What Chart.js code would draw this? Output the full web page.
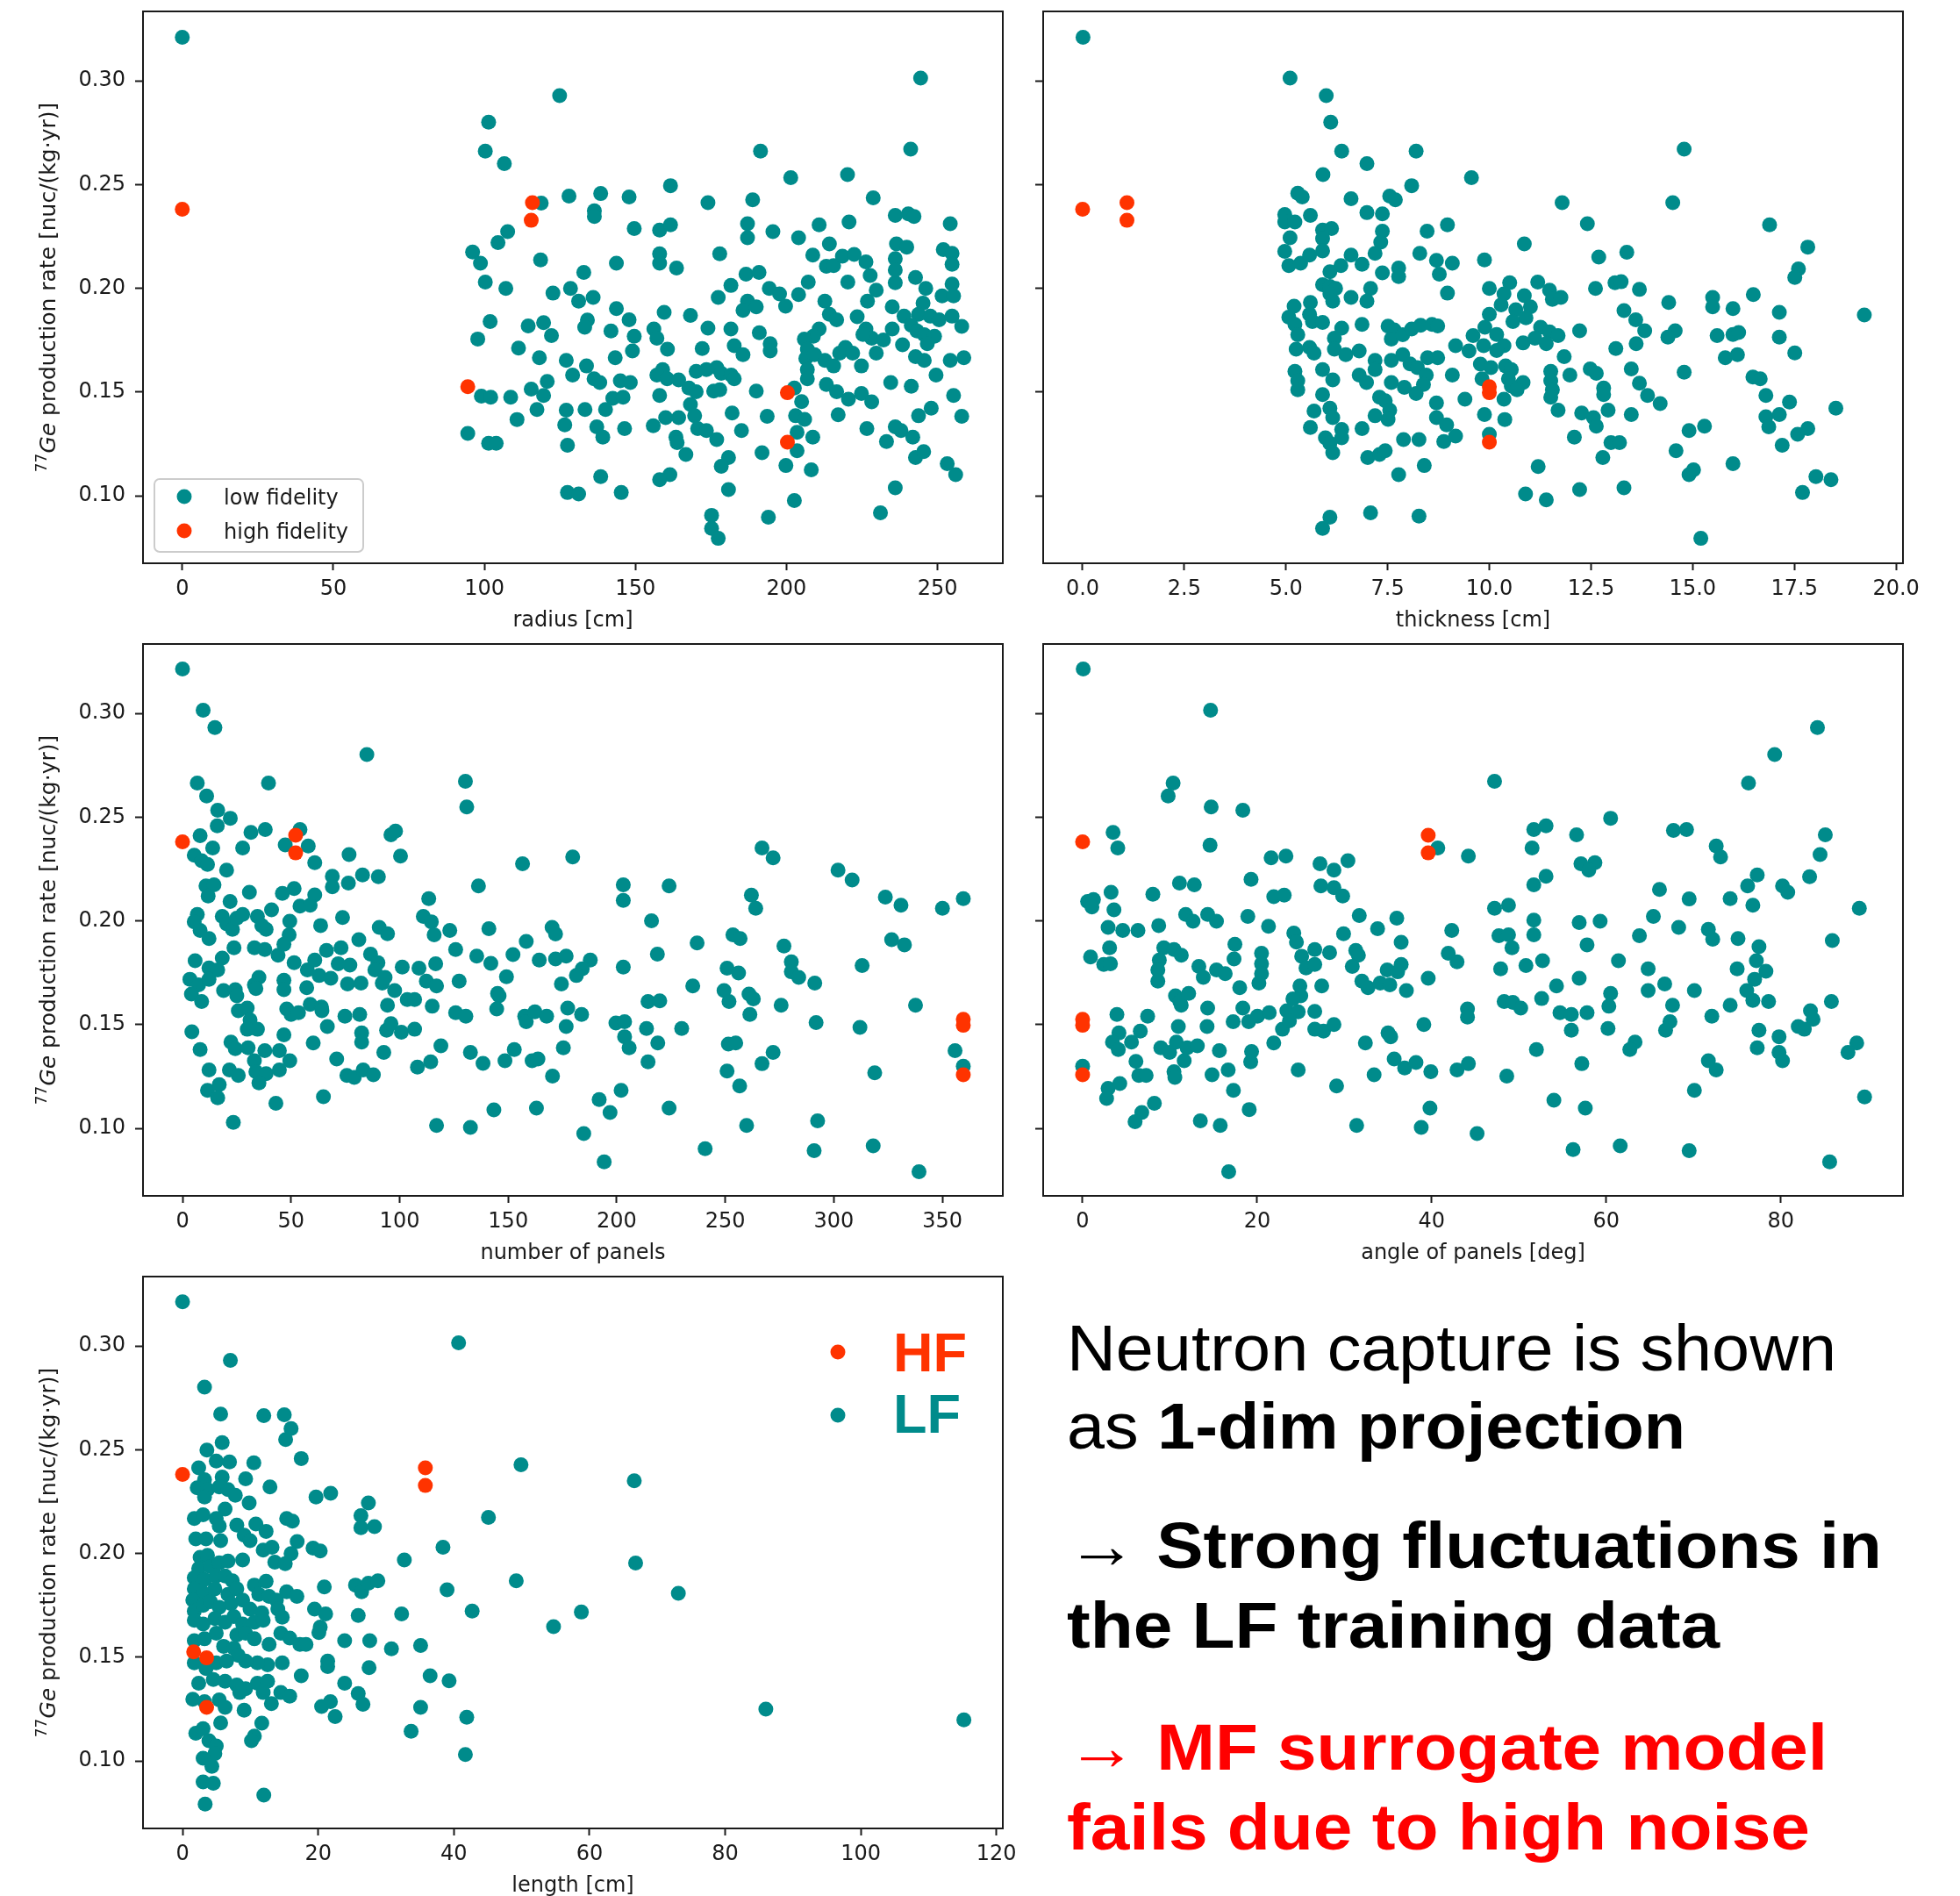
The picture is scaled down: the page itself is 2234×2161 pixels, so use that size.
<!DOCTYPE html>
<html>
<head>
<meta charset="utf-8">
<title>Neutron capture 1-dim projections</title>
<script src="https://cdn.jsdelivr.net/npm/chart.js@4.4.1/dist/chart.umd.min.js"></script>
<style>
  html, body { margin: 0; padding: 0; background: #fff; }
  body { width: 2234px; height: 2161px; position: relative; overflow: hidden; }
  canvas { position: absolute; }
  .note { position: absolute; left: 1216px; font-family: "Liberation Sans", Arial, sans-serif;
          font-size: 75px; line-height: 75px; white-space: nowrap; color: #000; transform-origin: 0 0; }
  .note b { font-weight: bold; }
  .note .arr { font-family: "Liberation Serif", "DejaVu Serif", serif; }
  .red { color: #ff0000; }
</style>
</head>
<body>
<canvas id="p1" width="1188" height="727" style="left:0px;top:0px"></canvas>
<canvas id="p2" width="1188" height="727" style="left:1026px;top:0px"></canvas>
<canvas id="p3" width="1188" height="727" style="left:0px;top:721px"></canvas>
<canvas id="p4" width="1188" height="727" style="left:1026px;top:721px"></canvas>
<canvas id="p5" width="1188" height="727" style="left:0px;top:1442px"></canvas>

<div class="note" style="top:1499px" data-w="877">Neutron capture is shown</div>
<div class="note" style="top:1588px" data-w="705">as <b>1-dim projection</b></div>
<div class="note" style="top:1724px" data-w="929"><span class="arr">→</span> <b>Strong fluctuations in</b></div>
<div class="note" style="top:1815px" data-w="744"><b>the LF training data</b></div>
<div class="note red" style="top:1954px" data-w="867"><span class="arr">→</span> <b>MF surrogate model</b></div>
<div class="note red" style="top:2045px" data-w="847"><b>fails due to high noise</b></div>

<script>
// tick values
const rateTicks = [0.10, 0.15, 0.20, 0.25, 0.30];
const radiusTicks = [0, 50, 100, 150, 200, 250];
const thicknessTicks = [0, 2.5, 5, 7.5, 10, 12.5, 15, 17.5, 20];
const panelTicks = [0, 50, 100, 150, 200, 250, 300, 350];
const angleTicks = [0, 20, 40, 60, 80];
const lengthTicks = [0, 20, 40, 60, 80, 100, 120];

// [x, rate] pairs
const radiusHF = [[0, 0.2381], [115.9, 0.2413], [115.5, 0.2328], [94.5, 0.1526], [200.3, 0.1497], [200.3, 0.1259]];
const radiusLF = [
  [0, 0.3210], [124.9, 0.2929], [101.4, 0.2801], [100.3, 0.2662], [106.6, 0.2601], [118.8, 0.2411], [107.7, 0.2274], [104.5, 0.2221],
  [96.1, 0.2175], [98.7, 0.2121], [118.6, 0.2137], [100.3, 0.2030], [107.1, 0.2000], [122.7, 0.1977], [101.9, 0.1840], [97.8, 0.1756],
  [114.5, 0.1819], [119.6, 0.1835], [122.2, 0.1772], [111.3, 0.1712], [118.2, 0.1666], [99.0, 0.1481], [102.1, 0.1475], [108.7, 0.1475],
  [115.5, 0.1514], [120.8, 0.1551], [119.6, 0.1484], [117.4, 0.1416], [110.8, 0.1368], [94.5, 0.1301], [101.4, 0.1253], [103.9, 0.1253],
  [244.4, 0.3014], [191.4, 0.2662], [241.1, 0.2671], [201.4, 0.2534], [220.2, 0.2548], [161.6, 0.2495], [128.0, 0.2445], [138.5, 0.2457],
  [147.9, 0.2441], [174.0, 0.2413], [188.8, 0.2427], [228.7, 0.2436], [136.4, 0.2374], [136.4, 0.2347], [236.0, 0.2352], [240.3, 0.2359],
  [242.2, 0.2347], [254.2, 0.2312], [149.6, 0.2288], [158.0, 0.2281], [161.6, 0.2306], [187.1, 0.2312], [187.1, 0.2244], [195.5, 0.2274],
  [204.0, 0.2244], [210.8, 0.2306], [220.7, 0.2320], [214.2, 0.2214], [236.4, 0.2214], [239.8, 0.2199], [158.0, 0.2167], [158.0, 0.2121],
  [143.7, 0.2121], [163.6, 0.2098], [177.9, 0.2167], [208.7, 0.2160], [213.2, 0.2107], [215.6, 0.2110], [218.5, 0.2155], [222.4, 0.2164],
  [226.3, 0.2128], [236.0, 0.2143], [236.0, 0.2089], [251.9, 0.2187], [254.8, 0.2169], [254.8, 0.2116], [132.9, 0.2077], [186.6, 0.2068],
  [190.9, 0.2077], [181.6, 0.2014], [227.7, 0.2062], [207.2, 0.2030], [220.3, 0.2030], [236.0, 0.2027], [242.7, 0.2053], [246.1, 0.2000],
  [254.8, 0.2021], [251.5, 0.1964], [255.3, 0.1964], [128.5, 0.2000], [194.3, 0.2000], [197.7, 0.1973], [199.7, 0.1914], [204.0, 0.1970],
  [131.2, 0.1938], [136.0, 0.1956], [177.4, 0.1956], [187.1, 0.1938], [185.6, 0.1894], [190.0, 0.1911], [143.7, 0.1902], [159.5, 0.1884],
  [168.2, 0.1870], [147.9, 0.1849], [134.1, 0.1847], [133.2, 0.1813], [226.8, 0.1938], [229.7, 0.1991], [223.4, 0.1863], [212.7, 0.1938],
  [214.2, 0.1875], [216.6, 0.1849], [235.0, 0.1911], [238.9, 0.1866], [245.2, 0.1929], [243.7, 0.1875], [247.6, 0.1866], [250.5, 0.1849],
  [254.8, 0.1866], [258.0, 0.1817], [241.3, 0.1822], [243.2, 0.1795], [245.6, 0.1777], [249.0, 0.1769], [238.4, 0.1728], [235.0, 0.1804],
  [226.3, 0.1804], [228.2, 0.1760], [232.1, 0.1751], [229.7, 0.1688], [225.3, 0.1778], [210.8, 0.1804], [208.9, 0.1769], [205.9, 0.1755],
  [206.9, 0.1707], [206.4, 0.1662], [209.3, 0.1680], [212.7, 0.1653], [215.6, 0.1626], [217.6, 0.1688], [219.5, 0.1715], [221.9, 0.1688],
  [224.8, 0.1626], [206.9, 0.1609], [206.9, 0.1564], [242.7, 0.1671], [245.6, 0.1653], [246.6, 0.1733], [249.5, 0.1582], [254.2, 0.1653],
  [258.7, 0.1666], [234.5, 0.1546], [241.3, 0.1528], [255.3, 0.1484], [258.0, 0.1383], [243.7, 0.1386], [247.9, 0.1422], [213.2, 0.1537],
  [216.6, 0.1502], [220.5, 0.1466], [224.8, 0.1493], [228.2, 0.1453], [217.1, 0.1391], [226.6, 0.1324], [236.0, 0.1333], [237.9, 0.1315],
  [233.1, 0.1262], [241.8, 0.1283], [242.7, 0.1185], [245.4, 0.1213], [253.2, 0.1155], [256.0, 0.1102], [236.0, 0.1039], [231.1, 0.0918],
  [202.6, 0.1520], [205.0, 0.1454], [203.0, 0.1386], [206.0, 0.1369], [203.5, 0.1306], [208.7, 0.1283], [203.5, 0.1217], [199.8, 0.1146],
  [208.2, 0.1125], [202.6, 0.0977], [194.0, 0.0897], [193.6, 0.1383], [191.9, 0.1208], [190.0, 0.1505], [182.0, 0.1399], [185.1, 0.1315],
  [180.8, 0.1185], [178.4, 0.1142], [180.8, 0.1030], [175.2, 0.0906], [175.2, 0.0843], [177.4, 0.0795], [172.1, 0.1710], [174.0, 0.1808],
  [181.6, 0.1804], [182.7, 0.1724], [185.6, 0.1680], [191.0, 0.1786], [194.6, 0.1733], [194.6, 0.1698], [156.1, 0.1804], [157.1, 0.1760],
  [160.6, 0.1707], [149.6, 0.1769], [149.0, 0.1698], [141.9, 0.1795], [143.3, 0.1666], [127.1, 0.1653], [133.8, 0.1626], [129.2, 0.1582],
  [136.3, 0.1564], [138.2, 0.1546], [145.0, 0.1555], [148.3, 0.1546], [142.5, 0.1470], [145.9, 0.1475], [140.1, 0.1416], [133.3, 0.1416],
  [127.1, 0.1413], [126.6, 0.1342], [127.5, 0.1244], [137.2, 0.1333], [139.2, 0.1283], [146.4, 0.1324], [155.9, 0.1338], [158.0, 0.1484],
  [159.0, 0.1609], [157.1, 0.1582], [160.5, 0.1564], [164.3, 0.1559], [167.7, 0.1520], [160.0, 0.1377], [164.3, 0.1377], [168.2, 0.1440],
  [169.6, 0.1386], [170.1, 0.1502], [170.6, 0.1324], [173.5, 0.1315], [176.9, 0.1271], [163.4, 0.1283], [163.8, 0.1256], [166.7, 0.1199],
  [170.1, 0.1600], [173.5, 0.1609], [176.9, 0.1618], [178.4, 0.1591], [181.7, 0.1582], [182.7, 0.1564], [175.9, 0.1505], [177.9, 0.1511],
  [138.5, 0.1093], [145.3, 0.1016], [161.4, 0.1102], [158.0, 0.1078], [127.5, 0.1016], [131.2, 0.1009]
];

const thicknessHF = [[0, 0.2381], [1.09, 0.2413], [1.09, 0.2328], [10.0, 0.1526], [10.0, 0.1497], [10.0, 0.1259]];
const thicknessLF = [
  [0.01, 0.3210], [5.10, 0.3014], [5.99, 0.2929], [6.10, 0.2801], [6.37, 0.2662], [6.99, 0.2601], [8.20, 0.2662], [5.91, 0.2548],
  [8.09, 0.2495], [9.56, 0.2534], [5.29, 0.2459], [5.40, 0.2441], [6.60, 0.2432], [7.55, 0.2445], [7.69, 0.2427], [4.97, 0.2356],
  [4.97, 0.2320], [5.22, 0.2320], [5.60, 0.2352], [6.99, 0.2365], [7.37, 0.2359], [8.97, 0.2306], [8.47, 0.2276], [5.10, 0.2244],
  [5.90, 0.2281], [6.12, 0.2288], [5.90, 0.2240], [7.37, 0.2276], [7.33, 0.2223], [4.97, 0.2178], [5.07, 0.2110], [5.36, 0.2121],
  [5.58, 0.2160], [5.90, 0.2181], [6.60, 0.2160], [6.87, 0.2116], [7.19, 0.2169], [8.29, 0.2169], [8.70, 0.2135], [9.09, 0.2121],
  [8.77, 0.2068], [7.37, 0.2075], [7.77, 0.2098], [7.77, 0.2057], [6.35, 0.2110], [6.08, 0.2080], [5.90, 0.2018], [6.08, 0.2009],
  [6.22, 0.2000], [6.08, 0.1973], [6.15, 0.1938], [6.60, 0.1956], [7.08, 0.2000], [6.99, 0.1938], [8.97, 0.1977], [5.20, 0.1914],
  [5.60, 0.1932], [5.07, 0.1861], [5.22, 0.1826], [5.29, 0.1777], [5.58, 0.1875], [5.65, 0.1840], [5.90, 0.1836], [5.25, 0.1707],
  [5.58, 0.1715], [5.69, 0.1688], [6.37, 0.1808], [6.19, 0.1760], [6.19, 0.1707], [6.47, 0.1680], [6.80, 0.1698], [6.87, 0.1826],
  [7.19, 0.1653], [7.19, 0.1609], [7.51, 0.1818], [7.66, 0.1800], [7.59, 0.1756], [7.87, 0.1777], [8.09, 0.1804], [8.31, 0.1822],
  [8.59, 0.1826], [8.73, 0.1819], [9.17, 0.1724], [9.50, 0.1698], [9.60, 0.1772], [7.59, 0.1653], [7.87, 0.1680], [8.05, 0.1636],
  [8.23, 0.1618], [8.48, 0.1666], [8.73, 0.1666], [8.45, 0.1582], [8.38, 0.1537], [8.20, 0.1493], [7.91, 0.1523], [7.59, 0.1546],
  [9.09, 0.1582], [9.40, 0.1466], [5.22, 0.1600], [5.29, 0.1555], [5.29, 0.1511], [5.90, 0.1609], [6.15, 0.1559], [6.80, 0.1582],
  [6.98, 0.1546], [5.90, 0.1488], [5.69, 0.1409], [6.08, 0.1422], [6.15, 0.1377], [5.60, 0.1329], [6.37, 0.1320], [6.37, 0.1280],
  [5.97, 0.1280], [6.08, 0.1253], [6.15, 0.1208], [6.87, 0.1324], [7.30, 0.1475], [7.44, 0.1458], [7.55, 0.1413], [7.19, 0.1386],
  [7.51, 0.1369], [7.01, 0.1185], [7.30, 0.1199], [7.44, 0.1217], [7.89, 0.1271], [8.27, 0.1271], [7.77, 0.1102], [8.40, 0.1146],
  [8.70, 0.1448], [8.70, 0.1377], [8.95, 0.1342], [8.88, 0.1262], [9.17, 0.1288], [6.08, 0.0897], [5.90, 0.0843], [7.08, 0.0918],
  [8.27, 0.0902],
  [14.79, 0.2671], [11.79, 0.2413], [14.51, 0.2413], [12.41, 0.2312], [16.89, 0.2306], [10.86, 0.2214], [17.83, 0.2199], [9.88, 0.2137],
  [12.69, 0.2151], [13.38, 0.2174], [17.60, 0.2094], [17.51, 0.2053], [10.00, 0.2000], [10.50, 0.2027], [11.19, 0.2030], [10.36, 0.1973],
  [10.86, 0.1965], [11.48, 0.1991], [11.55, 0.1947], [11.76, 0.1956], [10.29, 0.1920], [10.65, 0.1897], [11.01, 0.1911], [10.00, 0.1875],
  [10.58, 0.1840], [10.90, 0.1858], [12.61, 0.2000], [13.09, 0.2027], [13.24, 0.2032], [13.69, 0.1995], [13.31, 0.1893], [13.60, 0.1849],
  [13.82, 0.1796], [14.41, 0.1932], [14.57, 0.1796], [14.39, 0.1765], [15.49, 0.1956], [15.49, 0.1911], [15.99, 0.1902], [16.49, 0.1970],
  [17.13, 0.1884], [19.22, 0.1872], [9.89, 0.1813], [10.18, 0.1778], [9.86, 0.1724], [10.36, 0.1724], [10.18, 0.1701], [11.26, 0.1813],
  [11.48, 0.1790], [11.69, 0.1772], [10.83, 0.1737], [11.12, 0.1760], [11.40, 0.1733], [12.22, 0.1796], [13.11, 0.1710], [13.61, 0.1733],
  [15.60, 0.1772], [15.99, 0.1778], [16.13, 0.1787], [17.13, 0.1765], [15.80, 0.1666], [16.10, 0.1680], [17.51, 0.1689], [9.78, 0.1635],
  [10.04, 0.1618], [10.40, 0.1626], [10.54, 0.1609], [9.82, 0.1564], [10.47, 0.1564], [10.54, 0.1529], [10.83, 0.1546], [10.68, 0.1511],
  [10.36, 0.1466], [11.51, 0.1600], [11.51, 0.1555], [11.55, 0.1511], [11.51, 0.1475], [11.84, 0.1671], [11.98, 0.1582], [12.48, 0.1612],
  [12.63, 0.1591], [12.81, 0.1520], [12.81, 0.1488], [13.49, 0.1612], [13.69, 0.1543], [13.89, 0.1484], [14.20, 0.1445], [14.79, 0.1596],
  [11.69, 0.1413], [12.27, 0.1399], [12.56, 0.1377], [12.63, 0.1336], [12.92, 0.1413], [13.49, 0.1392], [9.88, 0.1392], [10.38, 0.1368],
  [10.00, 0.1297], [12.09, 0.1283], [12.99, 0.1256], [13.20, 0.1256], [12.79, 0.1185], [11.20, 0.1141], [10.89, 0.1009], [11.40, 0.0981],
  [12.22, 0.1030], [13.31, 0.1039], [14.91, 0.1315], [15.29, 0.1336], [14.59, 0.1217], [14.91, 0.1102], [15.02, 0.1125], [15.99, 0.1155],
  [15.20, 0.0795], [16.48, 0.1573], [16.66, 0.1564], [16.80, 0.1484], [17.38, 0.1452], [16.80, 0.1381], [17.13, 0.1392], [16.87, 0.1333],
  [17.58, 0.1297], [17.83, 0.1324], [17.20, 0.1244], [18.52, 0.1422], [18.03, 0.1093], [18.40, 0.1078], [17.70, 0.1016]
];

const panelsHF = [[0, 0.2381], [52.1, 0.2413], [52.1, 0.2328], [359.6, 0.1526], [359.6, 0.1497], [359.6, 0.1259]];
const panelsLF = [
  [0, 0.3214], [9.5, 0.3016], [14.9, 0.2932], [84.9, 0.2802], [6.8, 0.2665], [39.6, 0.2665], [11.1, 0.2602], [16.2, 0.2534],
  [22.0, 0.2495], [16.0, 0.2459], [8.1, 0.2411], [13.9, 0.2352], [27.7, 0.2352], [31.5, 0.2427], [38.1, 0.2441], [54.1, 0.2441],
  [47.3, 0.2367], [57.9, 0.2361], [60.9, 0.2281], [5.4, 0.2317], [8.8, 0.2290], [11.5, 0.2272], [20.3, 0.2245], [76.7, 0.2320],
  [96.0, 0.2415], [98.1, 0.2433], [100.4, 0.2313], [130.3, 0.2673], [130.9, 0.2549], [156.6, 0.2276], [69.0, 0.2215], [69.0, 0.2165],
  [76.4, 0.2183], [82.9, 0.2222], [90.2, 0.2213], [10.8, 0.2169], [14.5, 0.2174], [11.8, 0.2120], [30.8, 0.2138], [21.9, 0.2094],
  [46.0, 0.2133], [51.4, 0.2156], [60.9, 0.2126], [54.1, 0.2072], [58.8, 0.2076], [41.0, 0.2054], [136.3, 0.2169], [113.4, 0.2108],
  [6.8, 0.2031], [5.4, 0.1996], [8.1, 0.1954], [12.2, 0.1915], [18.3, 0.2022], [20.3, 0.1986], [23.0, 0.1960], [25.0, 0.2013],
  [27.7, 0.2031], [34.5, 0.2022], [36.5, 0.1978], [38.5, 0.1960], [49.4, 0.1999], [49.1, 0.1933], [63.6, 0.1978], [73.7, 0.2017],
  [81.2, 0.1910], [90.6, 0.1969], [94.4, 0.1938], [110.9, 0.2022], [114.6, 0.1996], [115.9, 0.1933], [123.1, 0.1954], [141.1, 0.1963],
  [158.3, 0.1901], [170.2, 0.1969], [171.8, 0.1937], [5.8, 0.1808], [23.7, 0.1871], [18.3, 0.1821], [12.2, 0.1773], [16.2, 0.1764],
  [33.1, 0.1871], [37.9, 0.1862], [44.0, 0.1835], [46.7, 0.1888], [51.4, 0.1799], [57.5, 0.1764], [60.9, 0.1812], [66.3, 0.1858],
  [73.0, 0.1871], [71.7, 0.1794], [77.1, 0.1787], [86.6, 0.1840], [90.0, 0.1799], [88.6, 0.1764], [101.2, 0.1778], [108.9, 0.1772],
  [116.6, 0.1794], [125.8, 0.1862], [135.5, 0.1831], [142.0, 0.1796], [152.2, 0.1838], [164.3, 0.1812], [171.8, 0.1817], [3.4, 0.1719],
  [7.4, 0.1692], [4.1, 0.1648], [8.8, 0.1612], [12.2, 0.1719], [18.9, 0.1665], [24.3, 0.1669], [25.0, 0.1639], [33.1, 0.1692],
  [35.2, 0.1728], [33.8, 0.1674], [46.7, 0.1714], [46.7, 0.1669], [57.2, 0.1678], [62.9, 0.1737], [68.3, 0.1724], [76.0, 0.1696],
  [82.2, 0.1701], [92.0, 0.1701], [93.3, 0.1728], [97.7, 0.1665], [103.5, 0.1621], [106.9, 0.1621], [112.3, 0.1710], [117.0, 0.1687],
  [127.4, 0.1710], [149.2, 0.1731], [145.1, 0.1651], [145.8, 0.1639], [174.5, 0.1696], [115.0, 0.1589], [125.8, 0.1558], [130.5, 0.1541],
  [144.7, 0.1576], [157.6, 0.1541], [158.3, 0.1514], [162.3, 0.1562], [167.7, 0.1541], [25.7, 0.1567], [29.8, 0.1580], [31.1, 0.1523],
  [29.8, 0.1478], [34.5, 0.1478], [48.0, 0.1576], [50.0, 0.1549], [53.4, 0.1558], [58.8, 0.1598], [64.0, 0.1585], [64.2, 0.1567],
  [74.8, 0.1541], [81.6, 0.1549], [66.7, 0.1491], [94.4, 0.1594], [94.0, 0.1473], [96.0, 0.1505], [100.8, 0.1464], [106.9, 0.1478],
  [82.5, 0.1460], [82.5, 0.1416], [46.7, 0.1451], [4.3, 0.1466], [8.1, 0.1380], [22.3, 0.1416], [24.3, 0.1384], [30.2, 0.1389],
  [37.9, 0.1375], [44.6, 0.1375], [49.4, 0.1326], [33.1, 0.1326], [33.8, 0.1273], [38.5, 0.1264], [44.6, 0.1282], [35.2, 0.1219],
  [60.2, 0.1412], [71.0, 0.1335], [92.7, 0.1366], [119.0, 0.1398], [114.3, 0.1321], [108.2, 0.1296], [132.6, 0.1366], [138.4, 0.1314],
  [148.5, 0.1326], [152.8, 0.1380], [161.0, 0.1326], [163.7, 0.1335], [170.4, 0.1252], [75.7, 0.1255], [79.1, 0.1246], [83.2, 0.1282],
  [87.9, 0.1259], [12.2, 0.1282], [21.6, 0.1282], [25.7, 0.1255], [11.5, 0.1184], [16.9, 0.1211], [16.2, 0.1148], [43.0, 0.1121],
  [64.9, 0.1153], [23.4, 0.1029], [117.0, 0.1014], [132.6, 0.1005], [143.4, 0.1089], [163.0, 0.1098],
  [179.7, 0.2308], [203.0, 0.2174], [203.0, 0.2099], [224.1, 0.2169], [266.9, 0.2352], [272.0, 0.2304], [301.9, 0.2245], [308.4, 0.2197],
  [323.7, 0.2115], [330.9, 0.2076], [350.0, 0.2061], [359.6, 0.2108], [262.0, 0.2124], [264.0, 0.2061], [216.0, 0.2001], [253.5, 0.1933],
  [256.8, 0.1915], [237.0, 0.1894], [277.0, 0.1879], [326.6, 0.1910], [332.5, 0.1885], [176.7, 0.1831], [187.8, 0.1812], [184.1, 0.1769],
  [181.4, 0.1737], [203.0, 0.1778], [218.7, 0.1840], [250.8, 0.1772], [256.1, 0.1749], [280.4, 0.1803], [280.4, 0.1755], [283.8, 0.1728],
  [291.2, 0.1701], [313.0, 0.1785], [235.0, 0.1687], [249.4, 0.1665], [251.7, 0.1612], [260.9, 0.1648], [262.9, 0.1624], [261.3, 0.1549],
  [275.7, 0.1594], [177.4, 0.1580], [183.8, 0.1549], [214.4, 0.1612], [219.8, 0.1615], [199.6, 0.1508], [203.6, 0.1514], [203.6, 0.1442],
  [205.7, 0.1389], [213.7, 0.1482], [218.9, 0.1412], [214.4, 0.1321], [229.9, 0.1482], [176.7, 0.1491], [175.4, 0.1389], [251.4, 0.1407],
  [254.8, 0.1412], [250.8, 0.1277], [256.6, 0.1205], [266.9, 0.1312], [272.0, 0.1366], [291.8, 0.1510], [312.0, 0.1487], [337.6, 0.1594],
  [318.8, 0.1268], [355.8, 0.1375], [359.6, 0.1300], [191.9, 0.1139], [196.9, 0.1077], [202.0, 0.1184], [224.1, 0.1098], [184.8, 0.0975],
  [194.2, 0.0839], [240.7, 0.0902], [259.8, 0.1014], [292.5, 0.1037], [290.9, 0.0893], [318.1, 0.0916], [339.2, 0.0791]
];

const angleHF = [[0, 0.2381], [0, 0.1526], [0, 0.1497], [0, 0.1259], [39.6, 0.2413], [39.6, 0.2328]];
const angleLF = [
  [0.07, 0.3214], [0, 0.1300], [14.66, 0.3016], [10.37, 0.2665], [9.80, 0.2602], [14.73, 0.2549], [18.36, 0.2534], [14.60, 0.2365],
  [3.49, 0.2427], [4.03, 0.2352], [40.7, 0.2352], [44.2, 0.2313], [21.6, 0.2304], [23.3, 0.2313], [27.2, 0.2276], [28.8, 0.2245],
  [30.4, 0.2290], [19.3, 0.2201], [11.1, 0.2183], [12.8, 0.2174], [3.26, 0.2138], [0.57, 0.2094], [1.24, 0.2103], [1.07, 0.2067],
  [3.59, 0.2054], [8.05, 0.2129], [21.9, 0.2117], [23.1, 0.2124], [27.3, 0.2169], [28.8, 0.2160], [29.8, 0.2120], [2.92, 0.1969],
  [4.60, 0.1954], [6.34, 0.1954], [8.72, 0.1978], [11.81, 0.2031], [12.65, 0.1999], [14.33, 0.2031], [15.34, 0.1999], [18.93, 0.2022],
  [21.3, 0.1974], [31.7, 0.2026], [33.8, 0.1963], [36.0, 0.2013], [42.3, 0.1954], [3.09, 0.1871], [0.91, 0.1826], [2.42, 0.1790],
  [3.19, 0.1794], [17.45, 0.1888], [17.35, 0.1817], [24.2, 0.1942], [24.5, 0.1898], [29.9, 0.1938], [36.5, 0.1897], [41.9, 0.1844],
  [42.9, 0.1803], [9.30, 0.1871], [10.47, 0.1862], [11.31, 0.1835], [8.79, 0.1812], [8.62, 0.1764], [8.62, 0.1710], [13.32, 0.1781],
  [13.83, 0.1728], [15.34, 0.1764], [16.34, 0.1746], [20.5, 0.1844], [20.5, 0.1794], [20.5, 0.1746], [20.2, 0.1701], [18.0, 0.1678],
  [25.1, 0.1830], [25.6, 0.1773], [26.6, 0.1862], [26.6, 0.1790], [28.3, 0.1847], [31.3, 0.1858], [31.6, 0.1835], [30.9, 0.1781],
  [34.9, 0.1764], [36.5, 0.1790], [36.1, 0.1755], [32.0, 0.1710], [32.7, 0.1678], [34.1, 0.1701], [35.2, 0.1692], [37.1, 0.1665],
  [39.6, 0.1724], [27.4, 0.1687], [24.9, 0.1687], [25.0, 0.1639], [24.1, 0.1624], [23.4, 0.1567], [24.7, 0.1562], [26.6, 0.1564],
  [22.9, 0.1478], [23.7, 0.1519], [21.9, 0.1412], [27.6, 0.1469], [26.6, 0.1478], [28.8, 0.1501], [32.4, 0.1412], [35.0, 0.1460],
  [35.3, 0.1442], [35.7, 0.1335], [36.9, 0.1291], [38.2, 0.1318], [39.9, 0.1273], [39.1, 0.1501], [33.4, 0.1259], [29.1, 0.1205],
  [24.7, 0.1282], [31.4, 0.1014], [38.8, 0.1005], [39.8, 0.1098], [42.9, 0.1282], [44.2, 0.1312], [44.1, 0.1576], [44.1, 0.1537],
  [45.2, 0.0975], [3.93, 0.1549], [7.45, 0.1541], [4.16, 0.1460], [3.42, 0.1416], [4.09, 0.1380], [5.60, 0.1416], [6.61, 0.1469],
  [6.11, 0.1323], [6.44, 0.1255], [7.28, 0.1255], [2.92, 0.1193], [4.26, 0.1216], [2.75, 0.1144], [8.22, 0.1121], [6.78, 0.1077],
  [6.01, 0.1032], [8.96, 0.1389], [9.97, 0.1366], [10.74, 0.1416], [10.97, 0.1491], [10.64, 0.1639], [11.14, 0.1612], [11.3, 0.1594],
  [12.15, 0.1651], [11.98, 0.1389], [11.64, 0.1326], [10.47, 0.1273], [10.57, 0.1246], [13.15, 0.1398], [14.33, 0.1580], [14.26, 0.1491],
  [15.67, 0.1375], [14.83, 0.1259], [16.68, 0.1282], [17.28, 0.1184], [17.25, 0.1514], [18.36, 0.1580], [19.03, 0.1514], [20.03, 0.1541],
  [21.38, 0.1558], [19.36, 0.1371], [19.26, 0.1321], [19.09, 0.1091], [13.49, 0.1037], [15.77, 0.1014], [16.74, 0.0791],
  [47.2, 0.2673], [84.2, 0.2932], [79.3, 0.2802], [76.3, 0.2665], [60.5, 0.2495], [51.7, 0.2441], [53.1, 0.2459], [56.6, 0.2415],
  [51.5, 0.2352], [67.7, 0.2436], [69.2, 0.2441], [72.6, 0.2361], [73.1, 0.2308], [85.1, 0.2415], [84.5, 0.2320], [57.1, 0.2276],
  [58.7, 0.2281], [58.0, 0.2245], [51.7, 0.2174], [53.1, 0.2215], [66.1, 0.2152], [69.5, 0.2106], [77.3, 0.2222], [76.2, 0.2169],
  [76.8, 0.2076], [74.2, 0.2108], [80.2, 0.2169], [80.8, 0.2138], [83.3, 0.2213], [89.0, 0.2061], [47.2, 0.2061], [48.8, 0.2076],
  [51.7, 0.2004], [51.7, 0.1933], [56.9, 0.1992], [59.3, 0.1999], [57.8, 0.1885], [47.7, 0.1929], [48.8, 0.1933], [49.2, 0.1871],
  [65.4, 0.2022], [63.8, 0.1929], [68.3, 0.1969], [71.7, 0.1960], [72.2, 0.1912], [75.1, 0.1915], [77.5, 0.1876], [85.9, 0.1906],
  [47.9, 0.1769], [50.8, 0.1785], [52.7, 0.1808], [61.4, 0.1808], [64.8, 0.1769], [77.2, 0.1808], [75.0, 0.1769], [78.3, 0.1758],
  [77.0, 0.1719], [54.3, 0.1687], [56.9, 0.1724], [60.5, 0.1651], [60.3, 0.1589], [64.8, 0.1665], [66.7, 0.1696], [70.1, 0.1665],
  [67.6, 0.1594], [76.1, 0.1665], [76.8, 0.1617], [78.6, 0.1612], [74.2, 0.1594], [72.1, 0.1541], [85.8, 0.1612], [83.4, 0.1567],
  [83.7, 0.1526], [82.0, 0.1491], [82.7, 0.1478], [48.3, 0.1612], [49.3, 0.1607], [50.2, 0.1580], [52.6, 0.1626], [54.7, 0.1558],
  [56.0, 0.1549], [57.8, 0.1558], [56.0, 0.1473], [60.2, 0.1482], [67.3, 0.1514], [66.8, 0.1473], [63.3, 0.1416], [62.7, 0.1380],
  [77.5, 0.1473], [79.8, 0.1442], [77.3, 0.1389], [79.8, 0.1366], [80.2, 0.1326], [88.7, 0.1412], [87.7, 0.1366], [89.6, 0.1152],
  [52.0, 0.1380], [57.2, 0.1312], [48.6, 0.1252], [71.7, 0.1326], [72.6, 0.1282], [70.1, 0.1184], [54.0, 0.1136], [57.6, 0.1098],
  [56.2, 0.0898], [61.6, 0.0916], [69.5, 0.0893], [85.6, 0.0839]
];

const lengthHF = [[0, 0.2381], [35.8, 0.2413], [35.8, 0.2328], [1.64, 0.1526], [3.55, 0.1497], [3.55, 0.1259]];
const lengthLF = [
  [0, 0.3213], [40.7, 0.3016], [7.05, 0.2931], [3.24, 0.2802], [5.62, 0.2672], [11.98, 0.2665], [15.0, 0.2669], [16.0, 0.2602],
  [15.2, 0.2549], [5.84, 0.2535], [3.59, 0.2499], [17.5, 0.2458], [4.97, 0.2446], [6.92, 0.2442], [10.51, 0.2437], [49.9, 0.2428],
  [2.38, 0.2413], [9.30, 0.2360], [5.84, 0.2369], [3.24, 0.2356], [2.16, 0.2317], [3.68, 0.2308], [5.41, 0.2321], [6.70, 0.2308],
  [7.78, 0.2281], [3.24, 0.2272], [12.89, 0.2321], [19.68, 0.2272], [21.84, 0.2290], [27.4, 0.2244], [9.82, 0.2244], [26.3, 0.2183],
  [26.3, 0.2124], [28.3, 0.2130], [45.1, 0.2174], [1.73, 0.2169], [3.03, 0.2187], [4.97, 0.2169], [6.27, 0.2214], [5.41, 0.2133],
  [8.0, 0.2137], [9.08, 0.2089], [10.81, 0.2142], [12.32, 0.2107], [9.95, 0.2062], [15.35, 0.2169], [16.2, 0.2156], [16.9, 0.2058],
  [1.95, 0.2071], [3.46, 0.2071], [5.62, 0.2062], [11.89, 0.2017], [13.19, 0.2030], [16.0, 0.2000], [19.24, 0.2026], [20.3, 0.2012],
  [8.86, 0.1969], [13.6, 0.1958], [15.14, 0.1951], [38.4, 0.2030], [32.7, 0.1969], [2.59, 0.1982], [3.68, 0.1991], [2.38, 0.1928],
  [4.11, 0.1937], [5.41, 0.1955], [6.70, 0.1964], [1.73, 0.1883], [3.24, 0.1875], [4.97, 0.1892], [6.27, 0.1892], [7.35, 0.1869],
  [1.73, 0.1830], [3.03, 0.1812], [4.76, 0.1830], [6.70, 0.1803], [8.0, 0.1830], [10.59, 0.1848], [12.32, 0.1866], [11.24, 0.1803],
  [1.51, 0.1776], [1.73, 0.1723], [3.03, 0.1750], [4.11, 0.1768], [5.41, 0.1741], [7.14, 0.1759], [8.86, 0.1776], [9.95, 0.1732],
  [12.76, 0.1794], [13.84, 0.1776], [15.35, 0.1816], [16.86, 0.1794], [14.05, 0.1732], [11.68, 0.1714], [14.7, 0.1693], [20.9, 0.1839],
  [25.5, 0.1848], [26.4, 0.1816], [27.4, 0.1857], [28.8, 0.1869], [39.0, 0.1825], [49.2, 0.1869], [42.7, 0.1723], [32.3, 0.1709],
  [25.9, 0.1702], [54.7, 0.1648], [1.73, 0.1678], [3.03, 0.1660], [4.76, 0.1687], [6.27, 0.1669], [7.57, 0.1696], [8.86, 0.1660],
  [10.59, 0.1669], [11.89, 0.1678], [19.46, 0.1732], [21.1, 0.1709], [20.3, 0.1646], [20.1, 0.1619], [14.49, 0.1616], [15.8, 0.1593],
  [17.3, 0.1562], [18.2, 0.1562], [8.0, 0.1607], [9.3, 0.1616], [10.59, 0.1589], [1.73, 0.1580], [3.24, 0.1589], [4.97, 0.1616],
  [6.05, 0.1553], [7.57, 0.1544], [12.76, 0.1562], [23.9, 0.1580], [27.6, 0.1580], [30.8, 0.1541], [35.1, 0.1557], [21.4, 0.1482],
  [21.4, 0.1455], [27.5, 0.1450], [36.5, 0.1411], [39.3, 0.1387], [17.5, 0.1411], [14.7, 0.1473], [12.54, 0.1464], [11.03, 0.1473],
  [9.3, 0.1482], [8.22, 0.1509], [1.73, 0.1473], [3.46, 0.1446], [4.97, 0.1473], [6.49, 0.1482], [2.38, 0.1375], [4.54, 0.1393],
  [6.27, 0.1384], [8.0, 0.1366], [9.3, 0.1348], [11.03, 0.1375], [12.54, 0.1384], [11.89, 0.1330], [14.49, 0.1330], [15.8, 0.1313],
  [13.1, 0.1277], [8.43, 0.1330], [1.51, 0.1298], [3.24, 0.1286], [5.41, 0.1295], [6.27, 0.1259], [5.62, 0.1184], [9.08, 0.1245],
  [11.68, 0.1182], [10.59, 0.1120], [10.16, 0.1098], [1.95, 0.1134], [3.03, 0.1156], [3.89, 0.1098], [4.97, 0.1072], [4.76, 0.1036],
  [3.03, 0.1013], [4.32, 0.0974], [3.03, 0.0899], [4.54, 0.0893], [3.33, 0.0792], [11.98, 0.0836], [20.5, 0.1263], [21.8, 0.1286],
  [22.5, 0.1214], [23.9, 0.1375], [25.9, 0.1325], [26.6, 0.1273], [35.1, 0.1259], [33.7, 0.1143], [41.9, 0.1211], [41.7, 0.1031],
  [58.8, 0.1718], [66.6, 0.2351], [66.8, 0.1954], [73.1, 0.1808], [86.0, 0.1250], [115.2, 0.1198]
];

const HF_COLOR = '#ff3300';
const LF_COLOR = '#008b8b';
const INK = '#1a1a1a';
const rateRange = [0.0675, 0.3335];

function dot(ctx, x, y, color) {
  ctx.beginPath();
  ctx.arc(x, y, 8.5, 0, Math.PI * 2);
  ctx.fillStyle = color;
  ctx.fill();
}

function drawRateTitle(ctx, x, y) {
  const parts = [
    { t: '77', f: '17px "DejaVu Sans"', dy: -10 },
    { t: 'Ge', f: 'italic 25px "DejaVu Sans"', dy: 0 },
    { t: ' production rate [nuc/(kg·yr)]', f: '25px "DejaVu Sans"', dy: 0 }
  ];
  ctx.save();
  ctx.translate(x, y);
  ctx.rotate(-Math.PI / 2);
  ctx.textAlign = 'left';
  ctx.textBaseline = 'alphabetic';
  ctx.fillStyle = INK;
  let total = 0;
  parts.forEach(p => { ctx.font = p.f; p.w = ctx.measureText(p.t).width; total += p.w; });
  let cx = -total / 2;
  parts.forEach(p => { ctx.font = p.f; ctx.fillText(p.t, cx, p.dy); cx += p.w; });
  ctx.restore();
}

function roundBox(ctx, x, y, w, h, r) {
  ctx.beginPath();
  ctx.moveTo(x + r, y);
  ctx.arcTo(x + w, y, x + w, y + h, r);
  ctx.arcTo(x + w, y + h, x, y + h, r);
  ctx.arcTo(x, y + h, x, y, r);
  ctx.arcTo(x, y, x + w, y, r);
  ctx.closePath();
}

function drawFidelityLegend(ctx, a) {
  roundBox(ctx, a.left + 13, a.top + 533, 238, 83, 6);
  ctx.fillStyle = 'rgba(255,255,255,0.8)';
  ctx.fill();
  ctx.strokeStyle = '#cccccc';
  ctx.lineWidth = 2;
  ctx.stroke();
  dot(ctx, a.left + 47, a.top + 553, LF_COLOR);
  dot(ctx, a.left + 47, a.top + 592, HF_COLOR);
  ctx.fillStyle = INK;
  ctx.font = '24px "DejaVu Sans"';
  ctx.textAlign = 'left';
  ctx.textBaseline = 'alphabetic';
  ctx.fillText('low fidelity', a.left + 92, a.top + 562);
  ctx.fillText('high fidelity', a.left + 92, a.top + 601);
}

function drawShortLegend(ctx, a) {
  dot(ctx, a.left + 792, a.top + 86, HF_COLOR);
  dot(ctx, a.left + 792, a.top + 158, LF_COLOR);
  ctx.font = 'bold 63px "Liberation Sans"';
  ctx.textAlign = 'left';
  ctx.textBaseline = 'alphabetic';
  ctx.fillStyle = HF_COLOR;
  ctx.fillText('HF', a.left + 855, a.top + 108);
  ctx.fillStyle = LF_COLOR;
  ctx.fillText('LF', a.left + 855, a.top + 178);
}

const decor = {
  id: 'decor',
  afterDraw(chart, args, o) {
    const { ctx, chartArea: a } = chart;
    ctx.save();
    ctx.strokeStyle = INK;
    ctx.lineWidth = 2;
    ctx.strokeRect(a.left, a.top, a.right - a.left, a.bottom - a.top);
    ctx.fillStyle = INK;
    ctx.font = '24px "DejaVu Sans"';
    ctx.textAlign = 'center';
    ctx.textBaseline = 'middle';
    ctx.fillText(o.xTitle, (a.left + a.right) / 2, a.bottom + 66);
    if (o.yTitle) drawRateTitle(ctx, a.left - 100, (a.top + a.bottom) / 2);
    if (o.legend === 'fidelity') drawFidelityLegend(ctx, a);
    if (o.legend === 'short') drawShortLegend(ctx, a);
    ctx.restore();
  }
};

function axis(range, ticks, fmt, showLabels, tickLen, pad, fit) {
  return {
    type: 'linear',
    min: range[0],
    max: range[1],
    afterBuildTicks: s => { s.ticks = ticks.map(v => ({ value: v })); },
    afterFit: s => {
      fit(s);
      // tick labels never reach the canvas edges here, keep the plot box fixed
      s.paddingTop = 0; s.paddingBottom = 0; s.paddingLeft = 0; s.paddingRight = 0;
    },
    grid: { drawOnChartArea: false, drawTicks: true, tickLength: tickLen, tickWidth: 2, tickColor: INK },
    border: { display: false },
    ticks: {
      display: showLabels, autoSkip: false, maxRotation: 0, padding: pad, color: INK,
      font: { family: 'DejaVu Sans', size: 24 },
      callback: v => fmt(v)
    }
  };
}

function toXY(list) {
  return list.map(p => ({ x: p[0], y: p[1] }));
}

function makePanel(id, cfg) {
  new Chart(document.getElementById(id), {
    type: 'scatter',
    data: {
      datasets: [
        { label: 'high fidelity', data: toXY(cfg.hf), backgroundColor: HF_COLOR, borderColor: HF_COLOR,
          pointRadius: 8.5, pointBorderWidth: 0, order: 0 },
        { label: 'low fidelity', data: toXY(cfg.lf), backgroundColor: LF_COLOR, borderColor: LF_COLOR,
          pointRadius: 8.5, pointBorderWidth: 0, order: 1 }
      ]
    },
    options: {
      responsive: false,
      animation: false,
      devicePixelRatio: 1,
      events: [],
      layout: { padding: { left: 0, top: 13, right: 45, bottom: 0 } },
      plugins: {
        legend: { display: false },
        tooltip: { enabled: false },
        decor: { xTitle: cfg.title, yTitle: cfg.yLabels, legend: cfg.legend || '' }
      },
      scales: {
        x: axis(cfg.range, cfg.ticks, cfg.fmt, true, 8, 7, s => { s.height = 85; }),
        y: axis(rateRange, rateTicks, v => v.toFixed(2), cfg.yLabels, 9, 11, s => { s.width = 163; })
      }
    },
    plugins: [decor]
  });
}

makePanel('p1', { title: 'radius [cm]', lf: radiusLF, hf: radiusHF, ticks: radiusTicks, range: [-13.0, 271.6],
  fmt: v => String(v), yLabels: true, legend: 'fidelity' });
makePanel('p2', { title: 'thickness [cm]', lf: thicknessLF, hf: thicknessHF, ticks: thicknessTicks, range: [-0.97, 20.17],
  fmt: v => v.toFixed(1), yLabels: false });
makePanel('p3', { title: 'number of panels', lf: panelsLF, hf: panelsHF, ticks: panelTicks, range: [-18.2, 377.8],
  fmt: v => String(v), yLabels: true });
makePanel('p4', { title: 'angle of panels [deg]', lf: angleLF, hf: angleHF, ticks: angleTicks, range: [-4.52, 94.0],
  fmt: v => String(v), yLabels: false });
makePanel('p5', { title: 'length [cm]', lf: lengthLF, hf: lengthHF, ticks: lengthTicks, range: [-5.83, 120.94],
  fmt: v => String(v), yLabels: true, legend: 'short' });

// stretch each note line to the width it has in the slide
document.querySelectorAll('.note').forEach(el => {
  const w = el.getBoundingClientRect().width;
  el.style.transform = 'scaleX(' + (Number(el.dataset.w) / w) + ')';
});
</script>
</body>
</html>
